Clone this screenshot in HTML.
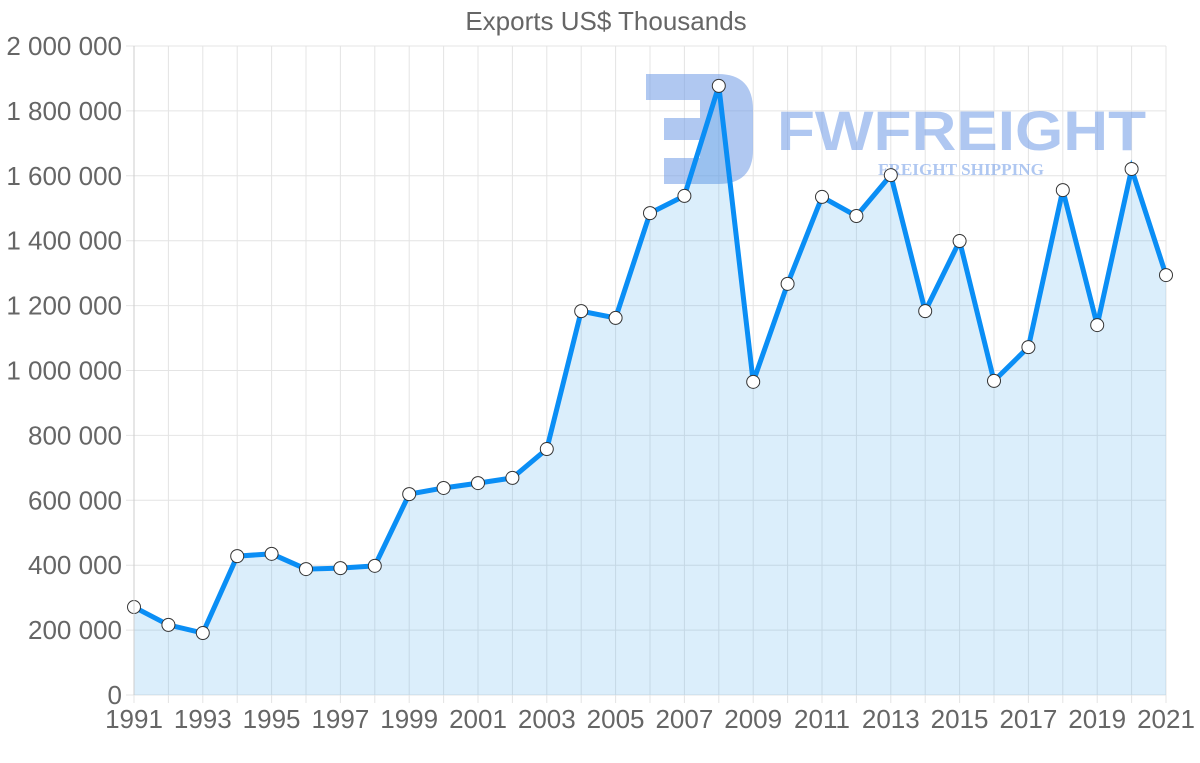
<!DOCTYPE html>
<html><head><meta charset="utf-8"><style>
body{margin:0;background:#fff;}
svg{display:block;font-family:"Liberation Sans",sans-serif;}
</style></head><body>
<svg id="c" width="1200" height="763">
<text x="606" y="30" text-anchor="middle" font-size="26" fill="#666">Exports US$ Thousands</text>
<g id="grid"></g>
<g id="wm" opacity="0.55">
<path d="M646,74 H718 Q753,74 753,110 V150 Q753,184 718,184 H664 V158 H700 V140 H664 V118 H700 V100 H646 Z" fill="#6f9be6"/>
<text x="777" y="150" font-size="56" font-weight="bold" fill="#6f9be6" textLength="369" lengthAdjust="spacingAndGlyphs">FWFREIGHT</text>
<text x="878" y="175" font-size="17" font-weight="bold" font-family="Liberation Serif,serif" fill="#6f9be6" textLength="166" lengthAdjust="spacingAndGlyphs">FREIGHT SHIPPING</text>
</g>
<g id="series"></g>
<g id="axes"></g>
</svg>
<script>
const years=[1991,1992,1993,1994,1995,1996,1997,1998,1999,2000,2001,2002,2003,2004,2005,2006,2007,2008,2009,2010,2011,2012,2013,2014,2015,2016,2017,2018,2019,2020,2021];
const exportsK=[271000,216000,191000,428000,435000,388000,391000,398000,619000,638000,653000,669000,758000,1183000,1162000,1485000,1538000,1877000,965000,1267000,1535000,1476000,1602000,1183000,1399000,968000,1072000,1556000,1140000,1621000,1294000];
const yTicks=[0,200000,400000,600000,800000,1000000,1200000,1400000,1600000,1800000,2000000];
const xLabelYears=[1991,1993,1995,1997,1999,2001,2003,2005,2007,2009,2011,2013,2015,2017,2019,2021];
const NS="http://www.w3.org/2000/svg";
const X0=134,X1=1166,Y0=695,Y1=46;
const xs=y=>X0+(y-years[0])/(years[years.length-1]-years[0])*(X1-X0);
const ys=v=>Y0-v/2000000*(Y0-Y1);
const fmt=v=>String(v).replace(/\B(?=(\d{3})+(?!\d))/g," ");
function mk(t,a,p){const e=document.createElementNS(NS,t);for(const k in a)e.setAttribute(k,a[k]);p.appendChild(e);return e;}
const grid=document.getElementById('grid'),axes=document.getElementById('axes'),ser=document.getElementById('series');
years.forEach(y=>{const l=mk('line',{x1:xs(y),x2:xs(y),y1:Y1,y2:Y0+8,stroke:'#e4e4e4','stroke-width':1},grid);

});
yTicks.forEach(v=>{const l=mk('line',{x1:X0-8,x2:X1,y1:ys(v),y2:ys(v),stroke:'#e4e4e4','stroke-width':1},grid);


const t=mk('text',{x:122,y:ys(v)+9,'text-anchor':'end','font-size':26,fill:'#666'},axes);t.textContent=fmt(v);

});
xLabelYears.forEach(y=>{const t=mk('text',{x:xs(y),y:728,'text-anchor':'middle','font-size':26,fill:'#666'},axes);t.textContent=y;

});
const pts=years.map((y,i)=>[xs(y),ys(exportsK[i])]);
const area=mk('path',{d:'M'+pts.map(p=>p.join(',')).join('L')+`L${X1},${Y0}L${X0},${Y0}Z`,fill:'rgba(54,162,235,0.18)'},ser);


const line=mk('polyline',{points:pts.map(p=>p.join(',')).join(' '),fill:'none',stroke:'#0a8ef5','stroke-width':5,'stroke-linejoin':'miter'},ser);


pts.forEach(p=>{const c=mk('circle',{cx:p[0],cy:p[1],r:6.5,fill:'#fff',stroke:'#333','stroke-width':1},ser);

});
const ax=mk('line',{x1:X0,x2:X0,y1:Y1,y2:Y0,stroke:'#ccc'},axes);


</script>
</body></html>
